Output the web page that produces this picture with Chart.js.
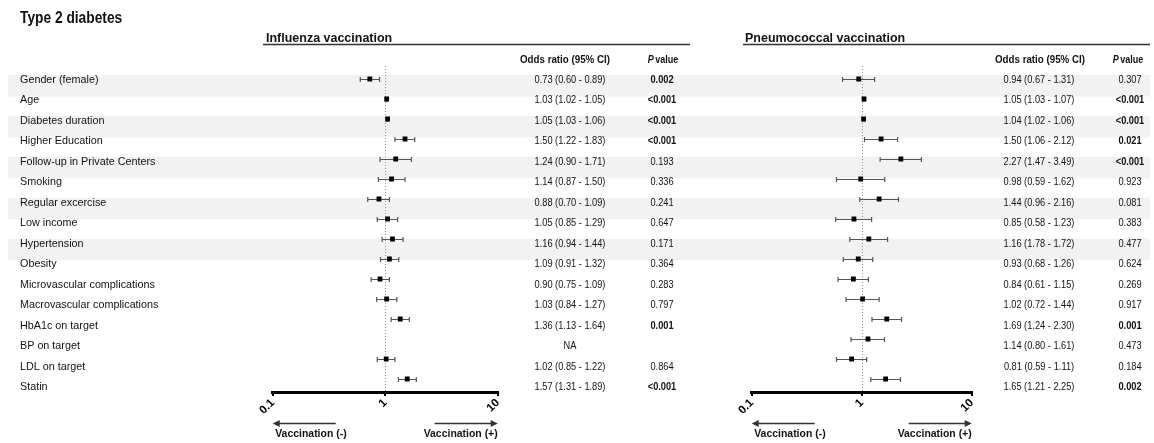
<!DOCTYPE html>
<html lang="en">
<head>
<meta charset="UTF-8">
<title>Type 2 diabetes - vaccination odds ratios</title>
<script src="https://cdn.jsdelivr.net/npm/chart.js"></script>
<style>
    body { margin: 0; background: #fff; }
    #wrap { position: relative; width: 1154px; height: 443px; }
    canvas { position: absolute; top: 0; }
    #fluChart { left: 0; }
    #pneuChart { left: 720px; }
</style>
</head>
<body>
<div id="wrap">
    <canvas id="fluChart" width="720" height="443"></canvas>
    <canvas id="pneuChart" width="434" height="443"></canvas>
</div>
<script>
// Rows of the table
const categories = [
    'Gender (female)', 'Age', 'Diabetes duration', 'Higher Education',
    'Follow-up in Private Centers', 'Smoking', 'Regular excercise', 'Low income',
    'Hypertension', 'Obesity', 'Microvascular complications', 'Macrovascular complications',
    'HbA1c on target', 'BP on target', 'LDL on target', 'Statin'
];

// Influenza vaccination (null = NA)
const fluOR   = [0.73, 1.03, 1.05, 1.50, 1.24, 1.14, 0.88, 1.05, 1.16, 1.09, 0.90, 1.03, 1.36, null, 1.02, 1.57];
const fluLow  = [0.60, 1.02, 1.03, 1.22, 0.90, 0.87, 0.70, 0.85, 0.94, 0.91, 0.75, 0.84, 1.13, null, 0.85, 1.31];
const fluHigh = [0.89, 1.05, 1.06, 1.83, 1.71, 1.50, 1.09, 1.29, 1.44, 1.32, 1.09, 1.27, 1.64, null, 1.22, 1.89];
const fluP    = ['0.002', '<0.001', '<0.001', '<0.001', '0.193', '0.336', '0.241', '0.647', '0.171', '0.364', '0.283', '0.797', '0.001', '', '0.864', '<0.001'];

// Pneumococcal vaccination
const pneuOR   = [0.94, 1.05, 1.04, 1.50, 2.27, 0.98, 1.44, 0.85, 1.16, 0.93, 0.84, 1.02, 1.69, 1.14, 0.81, 1.65];
const pneuLow  = [0.67, 1.03, 1.02, 1.06, 1.47, 0.59, 0.96, 0.58, 0.78, 0.68, 0.61, 0.72, 1.24, 0.80, 0.59, 1.21];
const pneuHigh = [1.31, 1.07, 1.06, 2.12, 3.49, 1.62, 2.16, 1.23, 1.72, 1.26, 1.15, 1.44, 2.30, 1.61, 1.11, 2.25];
const pneuP    = ['0.307', '<0.001', '<0.001', '0.021', '<0.001', '0.923', '0.081', '0.383', '0.477', '0.624', '0.269', '0.917', '0.001', '0.473', '0.184', '0.002'];

const xTicks = [0.1, 1, 10];
const bandRows = [0, 2, 4, 6, 8];

const FONT = "'Liberation Sans', Arial, Helvetica, sans-serif";

function ciText(or, lo, hi) {
    return or.map((v, i) => v == null ? 'NA' :
        `${v.toFixed(2)} (${lo[i].toFixed(2)} - ${hi[i].toFixed(2)})`);
}
const fluCI = ciText(fluOR, fluLow, fluHigh);
const pneuCI = ciText(pneuOR, pneuLow, pneuHigh);
pneuCI[8] = '1.16 (1.78 - 1.72)'; // printed this way in the source table

// draw text squeezed horizontally by sx
function txt(ctx, s, x, y, font, align, sx, base) {
    ctx.save();
    ctx.font = font;
    ctx.fillStyle = '#111';
    ctx.textAlign = align;
    ctx.textBaseline = base || 'middle';
    ctx.translate(x, y);
    ctx.scale(sx, 1);
    ctx.fillText(s, 0, 0);
    ctx.restore();
}

function isSignificant(p) {
    return p === '<0.001' || (p !== '' && parseFloat(p) < 0.05);
}

function makePanel(id, d) {
    const panelPlugin = {
        id: 'forest',
        beforeDraw(chart) {
            const ctx = chart.ctx, yt = chart.scales.yt;
            ctx.save();
            ctx.fillStyle = '#f2f2f2';
            bandRows.forEach(r => {
                const y = yt.getPixelForValue(r);
                ctx.fillRect(d.bandFrom, y - 5, d.bandTo - d.bandFrom, 21.5);
            });
            ctx.restore();
        },
        beforeDatasetsDraw(chart) {
            const ctx = chart.ctx, xs = chart.scales.x, ys = chart.scales.y, area = chart.chartArea;
            ctx.save();
            // reference line at OR = 1
            const x1 = Math.round(xs.getPixelForValue(1)) + 0.5;
            ctx.strokeStyle = '#999';
            ctx.lineWidth = 1;
            ctx.setLineDash([1, 2]);
            ctx.beginPath();
            ctx.moveTo(x1, area.top);
            ctx.lineTo(x1, area.bottom);
            ctx.stroke();
            ctx.setLineDash([]);
            // confidence intervals
            ctx.strokeStyle = '#555';
            ctx.lineWidth = 1.2;
            d.or.forEach((v, i) => {
                if (v == null) return;
                const y = Math.round(ys.getPixelForValue(i)) + 0.5;
                const a = xs.getPixelForValue(d.lo[i]);
                const b = xs.getPixelForValue(d.hi[i]);
                ctx.beginPath();
                ctx.moveTo(a, y); ctx.lineTo(b, y);
                ctx.moveTo(a, y - 2.5); ctx.lineTo(a, y + 2.5);
                ctx.moveTo(b, y - 2.5); ctx.lineTo(b, y + 2.5);
                ctx.stroke();
            });
            ctx.restore();
        },
        afterDraw(chart) {
            const ctx = chart.ctx, yt = chart.scales.yt, area = chart.chartArea;
            if (d.showLabels) {
                txt(ctx, 'Type 2 diabetes', 20, 23, `bold 16px ${FONT}`, 'left', 0.86, 'alphabetic');
                categories.forEach((c, i) => {
                    txt(ctx, c, 20, yt.getPixelForValue(i), `11px ${FONT}`, 'left', 0.98);
                });
            }
            // panel header + rule
            txt(ctx, d.title, d.headerX, 42, `bold 13px ${FONT}`, 'left', 0.96, 'alphabetic');
            ctx.save();
            ctx.strokeStyle = '#333';
            ctx.lineWidth = 1.6;
            ctx.beginPath();
            ctx.moveTo(d.lineFrom, 44.5);
            ctx.lineTo(d.lineTo, 44.5);
            ctx.stroke();
            ctx.restore();

            // column headers
            txt(ctx, 'Odds ratio (95% CI)', d.orHeadX, 60, `bold 10.5px ${FONT}`, 'center', 0.93);
            ctx.save();
            ctx.font = `bold 10.5px ${FONT}`;
            const wv = ctx.measureText('value').width * 0.86;
            ctx.font = `italic bold 10.5px ${FONT}`;
            const wp = ctx.measureText('P').width * 0.86;
            ctx.restore();
            const start = d.pHeadX - (wp + 1.5 + wv) / 2;
            txt(ctx, 'P', start, 60, `italic bold 10.5px ${FONT}`, 'left', 0.86);
            txt(ctx, 'value', start + wp + 1.5, 60, `bold 10.5px ${FONT}`, 'left', 0.86);

            // table values
            d.ci.forEach((s, i) => {
                const y = yt.getPixelForValue(i);
                txt(ctx, s, d.orX, y, `11px ${FONT}`, 'center', 0.84);
                const p = d.p[i];
                if (p) {
                    txt(ctx, p, d.pX, y, `${isSignificant(p) ? 'bold ' : ''}11px ${FONT}`, 'center', 0.84);
                }
            });

            // direction arrows
            const ay = area.bottom + 31.5;
            ctx.save();
            ctx.strokeStyle = '#333';
            ctx.fillStyle = '#333';
            ctx.lineWidth = 1.4;
            ctx.beginPath();
            ctx.moveTo(area.left + 5, ay); ctx.lineTo(area.left + 63, ay);
            ctx.moveTo(area.right - 63, ay); ctx.lineTo(area.right - 5, ay);
            ctx.stroke();
            ctx.beginPath();
            ctx.moveTo(area.left, ay); ctx.lineTo(area.left + 7, ay - 3.5); ctx.lineTo(area.left + 7, ay + 3.5);
            ctx.closePath();
            ctx.moveTo(area.right, ay); ctx.lineTo(area.right - 7, ay - 3.5); ctx.lineTo(area.right - 7, ay + 3.5);
            ctx.closePath();
            ctx.fill();
            ctx.restore();
            txt(ctx, 'Vaccination (-)', area.left + 2.5, area.bottom + 42, `bold 11px ${FONT}`, 'left', 0.95);
            txt(ctx, 'Vaccination (+)', area.right, area.bottom + 42, `bold 11px ${FONT}`, 'right', 0.95);
        }
    };

    const points = [];
    d.or.forEach((v, i) => { if (v != null) points.push({ x: v, y: i }); });

    return new Chart(document.getElementById(id), {
        type: 'scatter',
        data: {
            datasets: [{
                data: points,
                pointStyle: 'rect',
                radius: 3.4,
                backgroundColor: '#000',
                borderWidth: 0
            }]
        },
        options: {
            responsive: false,
            animation: false,
            layout: { padding: { left: d.padLeft, right: d.padRight, top: 66, bottom: 0 } },
            plugins: { legend: { display: false }, tooltip: { enabled: false } },
            scales: {
                x: {
                    type: 'logarithmic',
                    position: 'bottom',
                    min: 0.1,
                    max: 10,
                    afterBuildTicks: s => { s.ticks = xTicks.map(v => ({ value: v })); },
                    afterFit: s => { s.height = 51; },
                    ticks: {
                        autoSkip: false,
                        minRotation: 45,
                        maxRotation: 45,
                        padding: 0,
                        color: '#000',
                        font: { family: FONT, size: 11.5, weight: 'bold' },
                        callback: v => String(v)
                    },
                    grid: { drawOnChartArea: false, drawTicks: true, tickLength: 4, color: '#000', lineWidth: 2 },
                    border: { display: true, color: '#000', width: 3 }
                },
                y: { type: 'linear', reverse: true, min: -0.65, max: 15.65, display: false },
                yt: { type: 'linear', reverse: true, min: -0.684, max: 15.246, display: false }
            }
        },
        plugins: [panelPlugin]
    });
}

makePanel('fluChart', {
    or: fluOR, lo: fluLow, hi: fluHigh, p: fluP, ci: fluCI,
    title: 'Influenza vaccination', showLabels: true,
    padLeft: 272.7, padRight: 222.3,
    headerX: 266, lineFrom: 263, lineTo: 690,
    orHeadX: 565, pHeadX: 663, orX: 570, pX: 662,
    bandFrom: 8, bandTo: 720
});

makePanel('pneuChart', {
    or: pneuOR, lo: pneuLow, hi: pneuHigh, p: pneuP, ci: pneuCI,
    title: 'Pneumococcal vaccination', showLabels: false,
    padLeft: 31.7, padRight: 182.3,
    headerX: 25, lineFrom: 23, lineTo: 430,
    orHeadX: 320, pHeadX: 408, orX: 319, pX: 410,
    bandFrom: 0, bandTo: 430
});
</script>
</body>
</html>
